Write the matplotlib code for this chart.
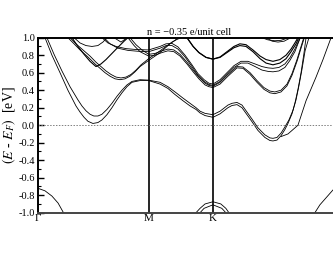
import numpy as np
import matplotlib
matplotlib.use('Agg')
import matplotlib.pyplot as plt

plt.rcParams['font.family'] = ['Liberation Serif', 'DejaVu Serif']
plt.rcParams['mathtext.fontset'] = 'stix'

# k-path: Gamma - M - K - Gamma (the last Gamma lies past the picture edge)
k_ticks = [0.0, 0.577, 0.911]
k_labels = ['Γ', 'M', 'K']
k_end = 1.577

# band A (lowest conduction pair)
kA1 = [0, 0.038, 0.074, 0.116, 0.157, 0.199, 0.220, 0.241, 0.261, 0.287, 0.313, 0.334, 0.360,
       0.386, 0.412, 0.438, 0.464, 0.490, 0.532, 0.577, 0.636, 0.677, 0.714, 0.755, 0.792, 0.823,
       0.844, 0.870, 0.911, 0.948, 0.989, 1.010, 1.036, 1.062, 1.088, 1.114, 1.145, 1.181, 1.207,
       1.223, 1.244, 1.265, 1.285, 1.301, 1.322, 1.337, 1.353, 1.369, 1.384, 1.395, 1.426]
eA1 = [1.35, 1.0, 0.80, 0.60, 0.40, 0.22, 0.15, 0.09, 0.045, 0.02, 0.03, 0.06, 0.12,
       0.20, 0.29, 0.37, 0.44, 0.49, 0.51, 0.51, 0.47, 0.42, 0.35, 0.28, 0.22, 0.18,
       0.14, 0.11, 0.09, 0.13, 0.20, 0.225, 0.235, 0.20, 0.12, 0.04, -0.06, -0.14, -0.175,
       -0.18, -0.17, -0.12, -0.05, 0.02, 0.13, 0.25, 0.41, 0.60, 0.82, 1.0, 1.4]
kA2 = [0, 0.048, 0.085, 0.126, 0.168, 0.209, 0.230, 0.251, 0.272, 0.292, 0.313, 0.334, 0.360,
       0.386, 0.412, 0.438, 0.464, 0.490, 0.532, 0.577, 0.636, 0.677, 0.714, 0.755, 0.792, 0.823,
       0.844, 0.870, 0.911, 0.948, 0.989, 1.010, 1.036, 1.062, 1.088, 1.114, 1.145, 1.181, 1.207,
       1.223, 1.244, 1.265, 1.285, 1.306, 1.327, 1.343, 1.358, 1.374, 1.390, 1.410, 1.436]
eA2 = [1.35, 1.0, 0.81, 0.62, 0.44, 0.29, 0.22, 0.165, 0.125, 0.105, 0.105, 0.125, 0.18,
       0.25, 0.33, 0.40, 0.46, 0.50, 0.52, 0.515, 0.49, 0.44, 0.38, 0.31, 0.25, 0.20,
       0.16, 0.135, 0.12, 0.16, 0.23, 0.25, 0.26, 0.23, 0.15, 0.07, -0.03, -0.11, -0.145,
       -0.15, -0.14, -0.09, -0.02, 0.06, 0.17, 0.29, 0.45, 0.64, 0.85, 1.0, 1.4]
# steep single band near the right Gamma
kA3 = [1.265, 1.301, 1.322, 1.353, 1.395, 1.447, 1.483, 1.525, 1.577]
eA3 = [-0.13, -0.10, -0.06, 0.0, 0.28, 0.55, 0.75, 1.0, 1.35]

# band B pair (Gamma-M-K)
kB1 = [0, 0.157, 0.189, 0.220, 0.261, 0.298, 0.324, 0.350, 0.376, 0.402, 0.428, 0.454, 0.480,
       0.506, 0.532, 0.577, 0.610, 0.636, 0.662, 0.688, 0.714, 0.729, 0.766]
eB1 = [1.7, 1.0, 0.93, 0.86, 0.78, 0.70, 0.65, 0.60, 0.56, 0.53, 0.52, 0.53, 0.56,
       0.61, 0.67, 0.74, 0.79, 0.83, 0.88, 0.93, 0.97, 1.0, 1.1]
kB2 = [0, 0.168, 0.199, 0.230, 0.272, 0.303, 0.329, 0.355, 0.381, 0.407, 0.433, 0.459, 0.485,
       0.511, 0.537, 0.577, 0.610, 0.636, 0.667, 0.698, 0.724, 0.745, 0.781]
eB2 = [1.7, 1.0, 0.93, 0.87, 0.79, 0.72, 0.67, 0.62, 0.58, 0.55, 0.54, 0.55, 0.58,
       0.63, 0.69, 0.76, 0.81, 0.85, 0.90, 0.95, 0.98, 1.0, 1.1]

# dark band C (Gamma-M)
kC = [0, 0.178, 0.209, 0.241, 0.272, 0.303, 0.329, 0.355, 0.386, 0.417, 0.449, 0.469, 0.506]
eC = [1.8, 1.0, 0.90, 0.81, 0.73, 0.67, 0.70, 0.75, 0.82, 0.89, 0.96, 1.0, 1.1]

# shallow bands touching the top
kI1 = [0.168, 0.189, 0.220, 0.251, 0.282, 0.313, 0.339, 0.360, 0.376]
eI1 = [1.05, 1.0, 0.94, 0.91, 0.90, 0.91, 0.95, 1.0, 1.05]
kI2 = [0.376, 0.397, 0.433, 0.459, 0.469]
eI2 = [1.03, 1.0, 0.95, 0.99, 1.02]
kJ1 = [1.145, 1.166, 1.197, 1.233, 1.265, 1.291, 1.307]
eJ1 = [1.05, 1.0, 0.975, 0.965, 0.97, 0.99, 1.02]
kJ2 = [1.166, 1.187, 1.219, 1.249, 1.281, 1.307, 1.317]
eJ2 = [1.05, 1.0, 0.96, 0.95, 0.96, 0.99, 1.02]

# band F pair (Gamma-M-K-Gamma)
kF1 = [0.324, 0.345, 0.376, 0.417, 0.469, 0.521, 0.577, 0.636, 0.667, 0.698, 0.729, 0.766,
       0.802, 0.833, 0.865, 0.890, 0.911, 0.948, 0.984, 1.020, 1.057, 1.093, 1.130, 1.166,
       1.197, 1.223, 1.254, 1.285, 1.311, 1.337, 1.358, 1.369]
eF1 = [1.05, 1.0, 0.93, 0.88, 0.855, 0.845, 0.84, 0.88, 0.91, 0.91, 0.87, 0.78,
       0.67, 0.57, 0.50, 0.465, 0.455, 0.50, 0.58, 0.66, 0.71, 0.71, 0.67, 0.63,
       0.615, 0.61, 0.62, 0.66, 0.74, 0.84, 0.96, 1.02]
kF2 = [0.313, 0.334, 0.365, 0.407, 0.459, 0.511, 0.577, 0.636, 0.667, 0.698, 0.729, 0.766,
       0.802, 0.833, 0.865, 0.890, 0.911, 0.948, 0.984, 1.020, 1.057, 1.093, 1.130, 1.166,
       1.197, 1.223, 1.254, 1.285, 1.311, 1.337, 1.358, 1.369]
eF2 = [1.05, 1.0, 0.94, 0.90, 0.875, 0.865, 0.86, 0.90, 0.93, 0.935, 0.895, 0.80,
       0.69, 0.59, 0.52, 0.48, 0.47, 0.52, 0.60, 0.68, 0.73, 0.73, 0.70, 0.67,
       0.655, 0.65, 0.66, 0.70, 0.77, 0.87, 0.97, 1.02]

# band G pair (Gamma-M-K-Gamma)
kG1 = [0.454, 0.469, 0.501, 0.532, 0.577, 0.610, 0.646, 0.677, 0.708, 0.740, 0.776, 0.808,
       0.838, 0.870, 0.890, 0.911, 0.948, 0.989, 1.036, 1.067, 1.104, 1.140, 1.176, 1.207,
       1.233, 1.265, 1.296, 1.322, 1.348, 1.369, 1.389]
eG1 = [1.05, 1.0, 0.91, 0.84, 0.79, 0.80, 0.83, 0.85, 0.84, 0.79, 0.70, 0.61,
       0.53, 0.46, 0.44, 0.43, 0.47, 0.56, 0.655, 0.65, 0.58, 0.49, 0.41, 0.37,
       0.36, 0.38, 0.45, 0.57, 0.73, 0.88, 1.02]
kG2 = [0.464, 0.480, 0.511, 0.542, 0.577, 0.610, 0.646, 0.677, 0.708, 0.740, 0.776, 0.808,
       0.838, 0.870, 0.890, 0.911, 0.948, 0.989, 1.036, 1.067, 1.104, 1.140, 1.176, 1.207,
       1.233, 1.265, 1.296, 1.322, 1.348, 1.369, 1.389]
eG2 = [1.05, 1.0, 0.92, 0.86, 0.81, 0.82, 0.85, 0.87, 0.86, 0.81, 0.72, 0.63,
       0.55, 0.48, 0.455, 0.445, 0.49, 0.58, 0.67, 0.665, 0.60, 0.51, 0.43, 0.39,
       0.38, 0.40, 0.47, 0.59, 0.75, 0.90, 1.04]

# dark band D (M-K-Gamma)
kD1 = [0.755, 0.776, 0.808, 0.838, 0.875, 0.911, 0.948, 0.984, 1.020, 1.051, 1.083, 1.119,
       1.156, 1.187, 1.223, 1.259, 1.291, 1.317, 1.337, 1.353, 1.369]
eD1 = [1.05, 1.0, 0.90, 0.83, 0.775, 0.755, 0.78, 0.84, 0.90, 0.93, 0.92, 0.86,
       0.79, 0.75, 0.73, 0.75, 0.80, 0.87, 0.94, 1.0, 1.05]
kD2 = [0.755, 0.776, 0.808, 0.838, 0.875, 0.911, 0.948, 0.984, 1.020, 1.051, 1.083, 1.119,
       1.156, 1.187, 1.223, 1.259, 1.291, 1.317, 1.343, 1.358, 1.374]
eD2 = [1.05, 1.0, 0.90, 0.83, 0.775, 0.755, 0.775, 0.83, 0.885, 0.91, 0.90, 0.84,
       0.76, 0.71, 0.69, 0.71, 0.76, 0.84, 0.93, 1.0, 1.05]

# valence bands
kV1 = [0, 0.038, 0.074, 0.106, 0.134, 0.147]
eV1 = [-0.72, -0.75, -0.81, -0.89, -1.0, -1.05]
kV2 = [1.426, 1.441, 1.467, 1.499, 1.535, 1.577]
eV2 = [-1.05, -1.0, -0.91, -0.83, -0.74, -0.71]
kV3 = [0.823, 0.844, 0.870, 0.911, 0.952, 0.978, 0.994]
eV3 = [-1.0, -0.95, -0.90, -0.875, -0.90, -0.95, -1.0]
kV4 = [0.844, 0.865, 0.911, 0.957, 0.978]
eV4 = [-1.0, -0.95, -0.91, -0.95, -1.0]

fig = plt.figure(figsize=(3.33, 2.58), dpi=100)
ax = fig.add_axes([0.1132, 0.1756, 0.911, 0.6783])

thin = [(kA1, eA1), (kA2, eA2), (kA3, eA3), (kB1, eB1), (kB2, eB2), (kI1, eI1), (kI2, eI2),
        (kJ1, eJ1), (kJ2, eJ2), (kF1, eF1), (kF2, eF2), (kG1, eG1), (kG2, eG2),
        (kV1, eV1), (kV2, eV2), (kV3, eV3), (kV4, eV4)]
for k, e in thin:
    ax.plot(k, e, color='k', lw=0.6)
for k, e in [(kC, eC), (kD1, eD1), (kD2, eD2)]:
    ax.plot(k, e, color='k', lw=0.8)

for kk in k_ticks[1:]:
    ax.axvline(kk, color='k', lw=1.2)
ax.axhline(0, color='grey', lw=0.7, ls=(0, (1.5, 1.5)))

ax.set_xlim(0, k_end)
ax.set_ylim(-1.0, 1.0)
for s in ax.spines.values():
    s.set_linewidth(1.4)
ax.spines['bottom'].set_color('#444444')

ax.set_xticks(k_ticks)
ax.set_xticklabels(k_labels, fontsize=8)
ax.tick_params(axis='x', length=0, pad=1)
yt = np.round(np.arange(-1.0, 1.01, 0.2), 1)
ax.set_yticks(yt)
ax.set_yticklabels(['%.1f' % abs(v) if v == 0 else '%.1f' % v for v in yt])
ax.set_yticks(np.arange(-0.9, 1.0, 0.2), minor=True)
ax.tick_params(axis='y', which='major', direction='in', length=4, width=1, labelsize=7.5, pad=2)
ax.tick_params(axis='y', which='minor', direction='in', length=2, width=0.8)

ax.set_ylabel(r'$(E$ - $E_F)$  [eV]', fontsize=10, labelpad=0.5)
ax.set_title('n = −0.35 e/unit cell', fontsize=7.5, pad=2)

fig.savefig('out.png', dpi=100)
